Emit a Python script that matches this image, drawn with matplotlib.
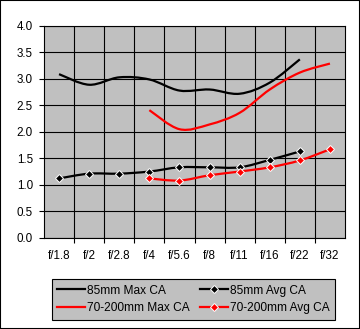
import matplotlib.pyplot as plt
from matplotlib.path import Path
from matplotlib.patches import PathPatch, Rectangle
from matplotlib.lines import Line2D
import numpy as np

plt.rcParams['font.family'] = ['Liberation Sans', 'DejaVu Sans']

stops = ['f/1.8', 'f/2', 'f/2.8', 'f/4', 'f/5.6', 'f/8', 'f/11', 'f/16', 'f/22', 'f/32']
max85 = [3.09, 2.89, 3.03, 2.99, 2.78, 2.80, 2.72, 2.93, 3.37]
avg85 = [1.12, 1.21, 1.21, 1.25, 1.33, 1.33, 1.33, 1.47, 1.63]
max70 = [2.41, 2.05, 2.14, 2.36, 2.80, 3.12, 3.29]   # from f/4
avg70 = [1.12, 1.08, 1.18, 1.25, 1.33, 1.46, 1.67]   # from f/4


def smooth_path(xs, ys):
    # Excel-style smoothed line: cubic Bezier through the points
    p = np.column_stack([xs, ys]).astype(float)
    ext = np.vstack([p[0], p, p[-1]])
    verts = [p[0]]
    codes = [Path.MOVETO]
    for i in range(len(p) - 1):
        c1 = ext[i + 1] + (ext[i + 2] - ext[i]) / 6
        c2 = ext[i + 2] - (ext[i + 3] - ext[i + 1]) / 6
        verts += [c1, c2, ext[i + 2]]
        codes += [Path.CURVE4] * 3
    return Path(verts, codes)


fig = plt.figure(figsize=(3.6, 3.29), dpi=100)
fig.patches.append(Rectangle((0, 0), 1, 1, transform=fig.transFigure, fill=False,
                             edgecolor='black', linewidth=1.5, zorder=10))

ax = fig.add_axes([44 / 360, 1 - 237.7 / 329, 301 / 360, 211.7 / 329])
ax.set_facecolor('#C0C0C0')

x85 = np.arange(len(max85))
x70 = np.arange(3, 3 + len(max70))

ax.add_patch(PathPatch(smooth_path(x85, max85), fill=False, edgecolor='black', lw=1.6, zorder=3))
ax.add_patch(PathPatch(smooth_path(x70, max70), fill=False, edgecolor='red', lw=1.6, zorder=3))
ax.add_patch(PathPatch(smooth_path(x85, avg85), fill=False, edgecolor='black', lw=1.6, zorder=3))
ax.add_patch(PathPatch(smooth_path(x70, avg70), fill=False, edgecolor='red', lw=1.6, zorder=3))
ax.plot(x85, avg85, ls='none', marker='D', ms=4, mfc='black', mec='white', mew=0.7, zorder=4)
ax.plot(x70, avg70, ls='none', marker='D', ms=4, mfc='red', mec='white', mew=0.7, zorder=4)

ax.set_xlim(-0.5, 9.5)
ax.set_ylim(0, 4)
ax.set_yticks(np.arange(0, 4.01, 0.5))
ax.set_yticklabels([f'{v:.1f}' for v in np.arange(0, 4.01, 0.5)], fontsize=8.4)
ax.set_xticks(range(len(stops)))
ax.set_xticklabels(stops, fontsize=8.4)
ax.set_xticks(np.arange(0.5, 9, 1), minor=True)
ax.tick_params(axis='x', which='major', length=0, pad=9)
ax.tick_params(axis='x', which='minor', length=3.5, width=0.8, direction='out')
ax.tick_params(axis='y', length=3.5, width=0.8, direction='out', pad=4.5)
ax.grid(True, axis='y', which='major', color='black', lw=0.8)
ax.grid(True, axis='x', which='minor', color='black', lw=0.8)
ax.set_axisbelow(True)
for s in ax.spines.values():
    s.set_color('black')
    s.set_linewidth(0.8)

handles = [
    Line2D([], [], color='black', lw=1.6),
    Line2D([], [], color='red', lw=1.6),
    Line2D([], [], color='black', lw=1.6, marker='D', ms=4, mfc='black', mec='white', mew=0.7),
    Line2D([], [], color='red', lw=1.6, marker='D', ms=4, mfc='red', mec='white', mew=0.7),
]
labels = ['85mm Max CA', '70-200mm Max CA', '85mm Avg CA', '70-200mm Avg CA']
leg = fig.legend(handles, labels, ncol=2, loc='center', mode='expand',
                 bbox_to_anchor=(52 / 360, 1 - 320 / 329, 283 / 360, 41 / 329), fontsize=8.6,
                 frameon=True, fancybox=False, facecolor='#C0C0C0', edgecolor='black',
                 framealpha=1, handlelength=2.3, handletextpad=0.2, columnspacing=0.4,
                 labelspacing=0.5, borderpad=0.45, borderaxespad=0)
leg.get_frame().set_linewidth(0.8)

fig.savefig('out.png', dpi=100)
